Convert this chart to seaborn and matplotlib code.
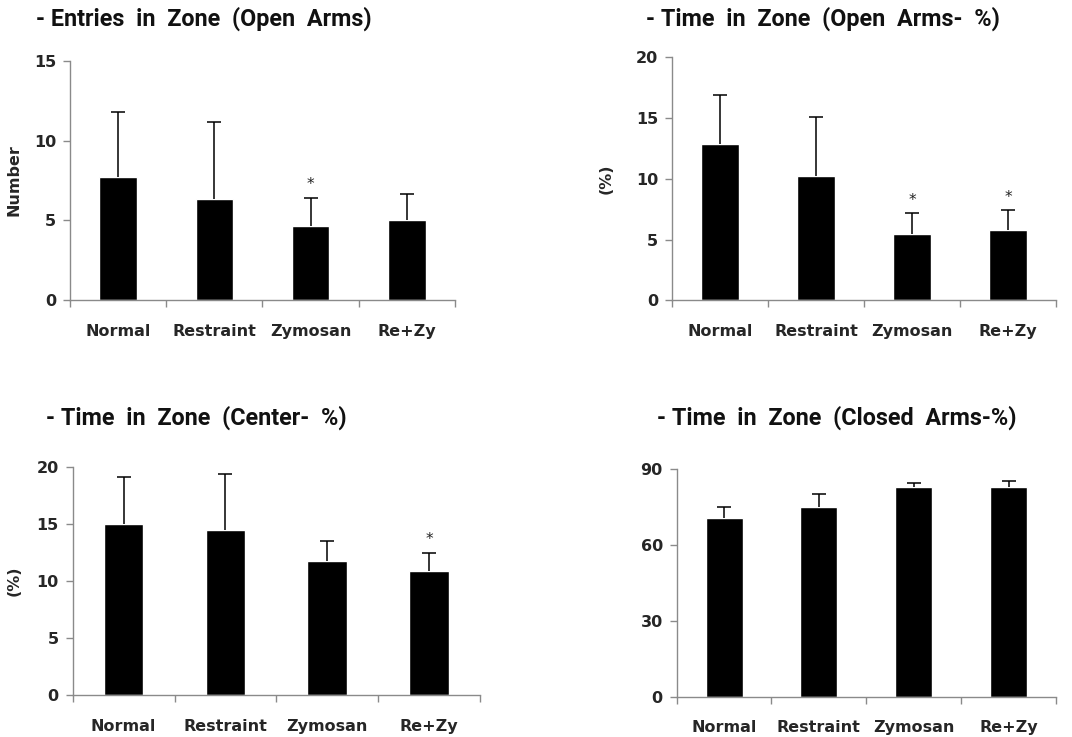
import numpy as np
import pandas as pd
import matplotlib
matplotlib.use("Agg")
import matplotlib.pyplot as plt
import seaborn as sns

sns.set_theme(style="white")
plt.rcParams["font.family"] = ["DejaVu Sans"]

groups = ["Normal", "Restraint", "Zymosan", "Re+Zy"]

# Entries into open arms (count), mean and upper SD
entries_open_mean = [7.7, 6.35, 4.65, 5.0]
entries_open_sd = [4.1, 4.8, 1.75, 1.65]
entries_open_sig = [False, False, True, False]

# Time spent in open arms (%)
time_open_mean = [12.85, 10.25, 5.45, 5.8]
time_open_sd = [4.05, 4.8, 1.7, 1.6]
time_open_sig = [False, False, True, True]

# Time spent in center (%)
time_center_mean = [15.0, 14.5, 11.75, 10.9]
time_center_sd = [4.1, 4.85, 1.75, 1.6]
time_center_sig = [False, False, False, True]

# Time spent in closed arms (%)
time_closed_mean = [70.7, 75.0, 83.0, 83.0]
time_closed_sd = [4.3, 5.0, 1.5, 2.3]
time_closed_sig = [False, False, False, False]

panels = [
    dict(title="- Entries  in  Zone  (Open  Arms)", ylabel="Number", lpad=9,
         mean=entries_open_mean, sd=entries_open_sd, sig=entries_open_sig,
         ylim=15, yticks=[0, 5, 10, 15],
         rect=[0.0653, 0.5929, 0.3591, 0.3243], title_xy=(0.034, 0.991)),
    dict(title="- Time  in  Zone  (Open  Arms-  %)", ylabel="(%)", lpad=16,
         mean=time_open_mean, sd=time_open_sd, sig=time_open_sig,
         ylim=20, yticks=[0, 5, 10, 15, 20],
         rect=[0.6269, 0.5925, 0.3581, 0.3298], title_xy=(0.603, 0.991)),
    dict(title="- Time  in  Zone  (Center-  %)", ylabel="(%)", lpad=11,
         mean=time_center_mean, sd=time_center_sd, sig=time_center_sig,
         ylim=20, yticks=[0, 5, 10, 15, 20],
         rect=[0.0678, 0.0570, 0.3800, 0.3093], title_xy=(0.043, 0.450)),
    dict(title="- Time  in  Zone  (Closed  Arms-%)", ylabel=None, lpad=10,
         mean=time_closed_mean, sd=time_closed_sd, sig=time_closed_sig,
         ylim=90, yticks=[0, 30, 60, 90],
         rect=[0.6312, 0.0547, 0.3538, 0.3089], title_xy=(0.613, 0.450)),
]

fig = plt.figure(figsize=(10.72, 7.37), dpi=100)
fig.patch.set_facecolor("white")
axis_gray = "#8a8a8a"
title_font = ["Roboto", "DejaVu Sans"]

for p in panels:
    ax = fig.add_axes(p["rect"])
    df = pd.DataFrame({"group": groups, "value": p["mean"]})
    sns.barplot(data=df, x="group", y="value", color="black", saturation=1,
                width=0.39, errorbar=None, ax=ax)
    x = np.arange(len(groups))
    # upper-only error bars: hide the caps sitting on the bar tops
    _, caps, _ = ax.errorbar(x, p["mean"], yerr=[np.zeros(len(groups)), p["sd"]],
                             fmt="none", ecolor="black", elinewidth=1.1,
                             capsize=5, capthick=1.1)
    caps[0].set_visible(False)
    tops = np.array(p["mean"]) + np.array(p["sd"])
    for xi, top, s in zip(x, tops, p["sig"]):
        if s:
            ax.annotate("*", (xi, top), xytext=(0, 4), textcoords="offset points",
                        ha="center", va="bottom", fontsize=11, color="#222222")

    ax.set_xlim(-0.5, len(groups) - 0.5)
    ax.set_ylim(0, p["ylim"])
    ax.set_yticks(p["yticks"])
    ax.set_yticklabels([str(t) for t in p["yticks"]], fontsize=11.5, fontweight="bold")
    ax.set_xticks(np.arange(len(groups) + 1) - 0.5)
    ax.set_xticklabels([""] * (len(groups) + 1))
    ax.set_xticks(x, minor=True)
    ax.set_xticklabels(groups, minor=True, fontsize=11.5, fontweight="bold")
    ax.tick_params(axis="x", which="major", direction="out", length=5,
                   width=1, color=axis_gray, bottom=True)
    ax.tick_params(axis="x", which="minor", length=0, pad=17, bottom=True)
    ax.tick_params(axis="y", direction="out", length=5, width=1,
                   color=axis_gray, left=True, pad=5)
    for side in ("top", "right"):
        ax.spines[side].set_visible(False)
    for side in ("left", "bottom"):
        ax.spines[side].set_color(axis_gray)
        ax.spines[side].set_linewidth(1)
    ax.set_xlabel("")
    if p["ylabel"]:
        ax.set_ylabel(p["ylabel"], fontsize=11.5, fontweight="bold", labelpad=p["lpad"])
    else:
        ax.set_ylabel("")
    fig.text(p["title_xy"][0], p["title_xy"][1], p["title"], fontsize=16.8,
             fontweight="bold", ha="left", va="top", color="#111111",
             family=title_font)

fig.savefig("out.png", dpi=100, facecolor="white")
